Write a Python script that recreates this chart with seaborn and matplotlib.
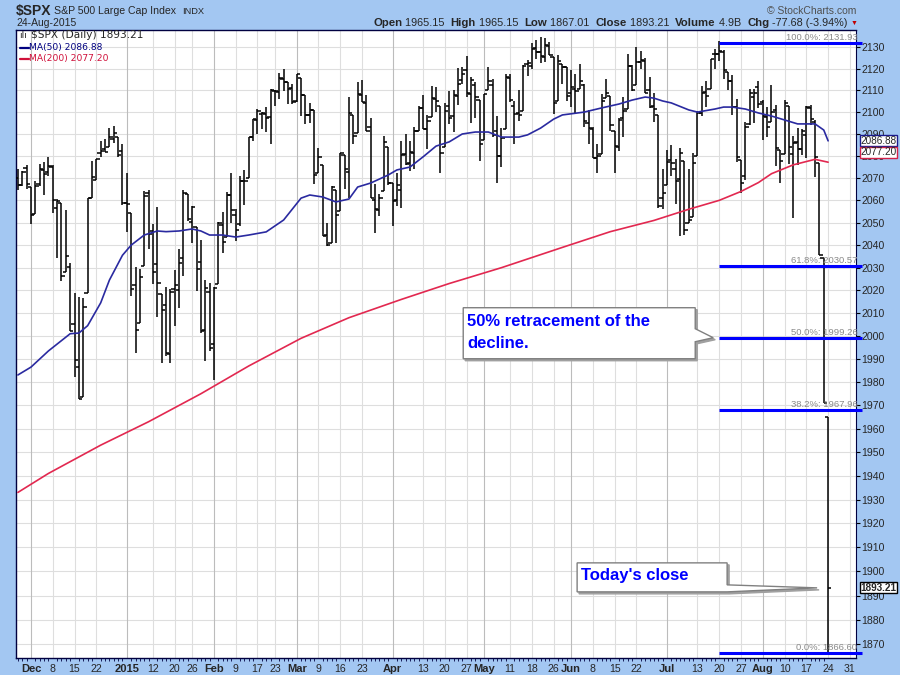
import numpy as np
import pandas as pd
import matplotlib
matplotlib.use('Agg')
import matplotlib.pyplot as plt
import seaborn as sns
from matplotlib.patches import Polygon
from matplotlib.ticker import FixedLocator, FixedFormatter, NullLocator

# trading calendar (NYSE holidays removed)
holidays = ['2014-11-27', '2014-12-25', '2015-01-01', '2015-01-19', '2015-02-16',
            '2015-04-03', '2015-05-25', '2015-07-03', '2015-09-07']

# daily bars, 25-Nov-2014 .. 24-Aug-2015
opens = [2070.15, 2067.03, 2074.78,
         2065.78, 2053.77, 2067.45, 2073.64, 2072.78, 2074.84, 2056.55, 2058.86, 2027.92, 2030.36, 2005.03, 1986.71, 1973.77, 2018.98, 2061.04, 2069.28, 2081.48, 2083.25, 2084.30, 2087.63, 2088.49, 2082.11,
         2058.90, 2054.44, 2022.15, 2005.55, 2030.61, 2063.45, 2046.13, 2031.58, 2018.40, 2013.75, 1992.25, 2020.76, 2020.19, 2034.30, 2062.98, 2050.42, 2047.86, 2032.34, 2002.45, 2019.35,
         1996.67, 2022.71, 2048.86, 2043.45, 2062.28, 2053.47, 2049.38, 2068.55, 2069.98, 2088.78, 2096.47, 2099.16, 2099.25, 2097.65, 2109.83, 2109.10, 2115.30, 2113.91, 2110.88,
         2105.23, 2115.76, 2107.72, 2098.54, 2100.91, 2072.25, 2076.14, 2044.69, 2041.10, 2064.56, 2055.35, 2080.59, 2072.84, 2098.69, 2090.32, 2107.99, 2103.94, 2093.10, 2059.94, 2055.78, 2064.11, 2084.05,
         2067.63, 2060.03, 2064.87, 2080.79, 2076.94, 2081.29, 2091.51, 2102.03, 2092.28, 2097.82, 2105.96, 2102.58, 2084.11, 2102.82, 2098.27, 2107.21, 2114.76, 2119.29, 2108.35, 2112.49, 2105.52,
         2087.38, 2110.23, 2112.63, 2091.26, 2079.96, 2092.13, 2115.56, 2102.87, 2099.62, 2100.43, 2122.07, 2121.30, 2129.45, 2127.79, 2125.55, 2130.36, 2125.34, 2105.13, 2122.27, 2120.66,
         2108.64, 2110.41, 2110.64, 2112.35, 2095.09, 2092.34, 2079.07, 2081.12, 2106.24, 2107.43, 2091.34, 2084.26, 2097.40, 2101.58, 2121.06, 2112.50, 2123.16, 2123.65, 2109.96, 2102.62, 2098.63, 2061.19,
         2067.00, 2078.03, 2073.95, 2069.52, 2077.66, 2049.73, 2052.74, 2080.03, 2099.72, 2109.01, 2110.55, 2126.80, 2126.85, 2127.55, 2118.21, 2114.16, 2102.24, 2078.19, 2070.75, 2094.70, 2106.78, 2111.60,
         2104.49, 2097.68, 2095.27, 2100.75, 2082.61, 2080.98, 2102.66, 2081.10, 2086.19, 2083.15, 2089.70, 2101.99, 2095.69, 2076.61, 2034.08, 1965.15]
highs = [2074.21, 2073.40, 2075.76,
         2065.78, 2068.77, 2076.28, 2077.34, 2079.47, 2075.78, 2060.60, 2058.86, 2055.53, 2032.25, 2018.69, 2016.89, 2016.75, 2061.23, 2077.85, 2078.76, 2086.73, 2087.56, 2092.70, 2093.55, 2088.49, 2085.58,
         2072.36, 2054.44, 2030.25, 2029.61, 2064.08, 2064.43, 2049.30, 2056.93, 2018.40, 2021.35, 2020.46, 2028.94, 2038.29, 2064.62, 2062.98, 2057.62, 2047.86, 2042.49, 2024.64, 2023.32,
         2021.66, 2050.30, 2054.74, 2063.55, 2072.40, 2056.16, 2070.86, 2073.48, 2088.53, 2097.03, 2101.30, 2100.23, 2102.13, 2110.61, 2110.05, 2117.94, 2119.59, 2113.91, 2112.74,
         2117.52, 2115.76, 2107.72, 2104.25, 2100.91, 2083.49, 2076.14, 2050.08, 2066.41, 2064.56, 2081.41, 2080.59, 2106.85, 2098.69, 2113.92, 2114.86, 2107.63, 2097.43, 2067.15, 2062.83, 2088.97, 2084.05,
         2067.63, 2072.17, 2086.99, 2089.81, 2086.69, 2093.31, 2102.61, 2107.65, 2098.62, 2111.91, 2111.30, 2102.58, 2103.94, 2109.64, 2109.98, 2120.49, 2120.92, 2125.92, 2116.04, 2113.65, 2105.52,
         2108.41, 2120.95, 2115.24, 2098.42, 2092.90, 2117.66, 2117.69, 2105.06, 2110.19, 2121.45, 2123.89, 2131.78, 2133.02, 2134.72, 2134.28, 2132.15, 2125.34, 2126.22, 2122.27, 2120.66,
         2119.15, 2117.59, 2121.92, 2112.89, 2100.99, 2093.01, 2085.62, 2108.50, 2115.02, 2107.43, 2091.34, 2097.40, 2106.79, 2126.65, 2121.64, 2129.87, 2128.03, 2125.10, 2116.04, 2108.92, 2098.63, 2074.28,
         2082.78, 2085.06, 2078.61, 2083.74, 2077.66, 2074.28, 2081.31, 2100.67, 2111.98, 2114.14, 2124.42, 2128.91, 2132.82, 2128.49, 2118.51, 2116.87, 2106.01, 2078.19, 2095.60, 2110.60, 2110.48, 2114.24,
         2105.70, 2102.51, 2112.66, 2103.32, 2082.61, 2105.35, 2102.66, 2089.06, 2092.93, 2092.45, 2102.87, 2103.47, 2096.17, 2076.61, 2034.08, 1965.15]
lows = [2064.75, 2066.40, 2065.06,
        2049.57, 2053.77, 2066.65, 2062.34, 2070.81, 2054.27, 2034.17, 2024.26, 2027.92, 2002.33, 1982.26, 1972.56, 1973.77, 2018.98, 2061.03, 2069.28, 2079.77, 2081.86, 2084.30, 2085.75, 2079.53, 2057.94,
        2046.04, 2017.34, 1992.44, 2005.55, 2030.61, 2038.33, 2022.58, 2008.25, 1988.44, 1991.47, 1988.12, 2004.49, 2012.04, 2026.38, 2050.54, 2040.97, 2019.91, 2001.49, 1989.18, 1993.38,
        1980.90, 2022.71, 2036.72, 2043.45, 2049.97, 2041.88, 2048.62, 2057.99, 2069.98, 2086.70, 2089.80, 2092.15, 2090.79, 2085.44, 2103.00, 2105.87, 2109.89, 2103.76, 2103.75,
        2104.50, 2098.26, 2094.49, 2095.22, 2067.27, 2072.21, 2044.16, 2039.69, 2041.10, 2041.17, 2055.35, 2065.08, 2061.23, 2085.56, 2090.32, 2104.42, 2091.50, 2061.05, 2045.50, 2052.96, 2064.11, 2067.04,
        2048.38, 2057.32, 2056.52, 2076.10, 2073.30, 2074.29, 2091.51, 2092.33, 2083.24, 2097.82, 2100.02, 2072.37, 2084.11, 2094.38, 2091.05, 2103.19, 2112.76, 2107.04, 2094.89, 2097.41, 2077.59,
        2087.38, 2110.23, 2088.46, 2067.93, 2074.99, 2092.13, 2104.58, 2085.57, 2096.04, 2100.43, 2116.81, 2120.01, 2124.50, 2122.59, 2122.95, 2126.06, 2099.18, 2105.13, 2112.86, 2104.89,
        2102.54, 2099.14, 2110.64, 2093.23, 2085.67, 2079.11, 2072.14, 2081.12, 2106.24, 2091.33, 2072.49, 2082.10, 2088.86, 2101.58, 2109.45, 2112.50, 2119.89, 2108.58, 2101.78, 2095.38, 2056.64, 2056.32,
        2067.00, 2071.02, 2058.40, 2044.02, 2044.66, 2049.73, 2052.74, 2080.03, 2098.18, 2102.49, 2110.55, 2119.88, 2123.66, 2115.40, 2110.00, 2098.63, 2077.09, 2063.52, 2069.09, 2094.08, 2094.97, 2102.07,
        2087.31, 2088.60, 2095.27, 2075.53, 2067.91, 2080.98, 2076.49, 2052.09, 2076.10, 2080.61, 2079.30, 2094.14, 2070.53, 2035.73, 1970.89, 1867.01]
closes = [2067.03, 2072.83, 2067.56,
          2053.44, 2066.55, 2074.33, 2071.92, 2075.37, 2060.31, 2059.82, 2026.14, 2035.33, 2002.33, 1989.63, 1972.74, 2012.89, 2061.23, 2070.65, 2078.54, 2082.17, 2081.88, 2088.77, 2090.57, 2080.35, 2058.90,
          2058.20, 2020.58, 2002.61, 2025.90, 2062.14, 2044.81, 2028.26, 2023.03, 2011.27, 1992.67, 2019.42, 2022.55, 2032.12, 2063.15, 2051.82, 2057.09, 2029.55, 2002.16, 2021.25, 1994.99,
          2020.85, 2050.03, 2041.51, 2062.52, 2055.47, 2046.74, 2068.59, 2068.53, 2088.48, 2096.99, 2100.34, 2099.68, 2097.45, 2110.30, 2109.66, 2115.48, 2113.86, 2110.74, 2104.50,
          2117.39, 2107.78, 2098.53, 2101.04, 2071.26, 2079.43, 2044.16, 2040.24, 2065.95, 2053.40, 2081.19, 2074.28, 2099.50, 2089.27, 2108.10, 2104.42, 2091.50, 2061.05, 2056.15, 2061.02, 2086.24, 2067.89,
          2059.69, 2066.96, 2080.62, 2076.33, 2081.90, 2091.18, 2102.06, 2092.43, 2095.84, 2106.63, 2104.99, 2081.18, 2100.40, 2097.29, 2107.96, 2112.93, 2117.69, 2108.92, 2114.76, 2106.85, 2085.51,
          2108.29, 2114.49, 2089.46, 2080.15, 2088.00, 2116.10, 2105.33, 2099.12, 2098.48, 2121.10, 2122.73, 2129.20, 2127.83, 2125.85, 2130.82, 2126.06, 2104.20, 2123.48, 2120.79, 2107.39,
          2111.73, 2109.60, 2114.07, 2095.84, 2092.83, 2079.28, 2080.15, 2105.20, 2108.86, 2094.11, 2084.43, 2096.29, 2100.44, 2121.24, 2109.99, 2122.85, 2124.20, 2108.58, 2102.31, 2101.49, 2057.64, 2063.11,
          2077.42, 2076.78, 2068.76, 2081.34, 2046.68, 2051.31, 2076.62, 2099.60, 2108.95, 2107.40, 2124.29, 2126.64, 2128.28, 2119.21, 2114.15, 2102.15, 2079.65, 2067.64, 2093.25, 2108.57, 2108.63, 2103.84,
          2098.04, 2093.32, 2099.84, 2083.56, 2077.57, 2104.18, 2084.07, 2086.05, 2083.39, 2091.54, 2102.44, 2096.92, 2079.61, 2035.73, 1970.89, 1893.21]

# moving averages
ma50_dates = ['2014-11-25', '2014-12-01', '2014-12-05', '2014-12-10', '2014-12-12', '2014-12-16', '2014-12-18',
              '2014-12-23', '2014-12-26', '2014-12-31', '2015-01-05', '2015-01-08', '2015-01-13', '2015-01-15',
              '2015-01-21', '2015-01-26', '2015-01-28', '2015-01-30', '2015-02-04', '2015-02-09', '2015-02-12',
              '2015-02-19', '2015-02-25', '2015-03-03', '2015-03-05', '2015-03-10', '2015-03-13', '2015-03-18',
              '2015-03-20', '2015-03-25', '2015-03-31', '2015-04-02', '2015-04-08', '2015-04-13', '2015-04-16',
              '2015-04-21', '2015-04-24', '2015-04-29', '2015-05-04', '2015-05-07', '2015-05-13', '2015-05-15',
              '2015-05-20', '2015-05-26', '2015-05-28', '2015-06-04', '2015-06-10', '2015-06-16', '2015-06-19',
              '2015-06-24', '2015-06-26', '2015-06-30', '2015-07-02', '2015-07-09', '2015-07-13', '2015-07-17',
              '2015-07-21', '2015-07-23', '2015-07-28', '2015-07-31', '2015-08-05', '2015-08-10', '2015-08-13',
              '2015-08-17', '2015-08-19', '2015-08-21', '2015-08-24']
ma50_vals = [1983.1, 1986.5, 1993.5, 1998.0, 2001.0, 2001.3, 2004.5, 2014.5, 2024.5, 2035.5, 2040.0, 2044.5,
             2046.3, 2046.0, 2046.3, 2047.2, 2046.3, 2044.5, 2044.5, 2043.6, 2044.5, 2045.9, 2051.2, 2061.0,
             2062.4, 2061.5, 2059.3, 2060.6, 2066.0, 2067.8, 2071.4, 2073.7, 2075.0, 2079.6, 2084.5, 2086.4,
             2090.0, 2090.9, 2090.9, 2088.6, 2088.6, 2089.6, 2092.7, 2096.8, 2098.7, 2100.0, 2101.9, 2103.7,
             2105.5, 2106.9, 2106.4, 2105.1, 2104.2, 2101.0, 2100.0, 2101.4, 2102.3, 2102.3, 2101.4, 2099.6,
             2098.2, 2096.4, 2094.6, 2094.6, 2094.6, 2091.8, 2086.88]
ma200_dates = ['2014-11-25', '2014-12-05', '2014-12-23', '2015-01-09', '2015-01-28', '2015-02-12', '2015-03-03',
               '2015-03-18', '2015-04-06', '2015-04-21', '2015-05-07', '2015-05-28', '2015-06-12', '2015-06-26',
               '2015-07-09', '2015-07-20', '2015-07-27', '2015-07-31', '2015-08-05', '2015-08-12', '2015-08-19',
               '2015-08-24']
ma200_vals = [1933.0, 1941.0, 1953.0, 1963.0, 1975.0, 1987.0, 1999.0, 2008.0, 2016.0, 2023.0, 2030.0,
              2039.0, 2046.0, 2051.0, 2056.0, 2060.0, 2064.0, 2068.0, 2072.0, 2076.0, 2078.5, 2077.2]

# fibonacci retracement levels
fib_pcts = ['100.0%', '61.8%', '50.0%', '38.2%', '0.0%']
fib_vals = [2131.93, 2030.57, 1999.26, 1967.96, 1866.60]
fib_start = '2015-07-20'

# axis ticks
y_ticks = list(range(1870, 2131, 10))
x_tick_dates = ['2014-12-01', '2014-12-08', '2014-12-15', '2014-12-22', '2015-01-02', '2015-01-12', '2015-01-20',
                '2015-01-26', '2015-02-02', '2015-02-09', '2015-02-17', '2015-02-23', '2015-03-02', '2015-03-09',
                '2015-03-16', '2015-03-23', '2015-04-01', '2015-04-13', '2015-04-20', '2015-04-27', '2015-05-01',
                '2015-05-11', '2015-05-18', '2015-05-26', '2015-06-01', '2015-06-08', '2015-06-15', '2015-06-22',
                '2015-07-01', '2015-07-13', '2015-07-20', '2015-07-27', '2015-08-03', '2015-08-10', '2015-08-17',
                '2015-08-24', '2015-08-31']
x_tick_labels = ['Dec', '8', '15', '22', '2015', '12', '20', '26', 'Feb', '9', '17', '23', 'Mar', '9', '16', '23',
                 'Apr', '13', '20', '27', 'May', '11', '18', '26', 'Jun', '8', '15', '22', 'Jul', '13', '20', '27',
                 'Aug', '10', '17', '24', '31']
month_labels = ['Dec', '2015', 'Feb', 'Mar', 'Apr', 'May', 'Jun', 'Jul', 'Aug']

# ---------------------------------------------------------------
sns.set_style('white')
plt.rcParams['font.family'] = ['Liberation Sans', 'DejaVu Sans']

cal = pd.bdate_range('2014-11-25', '2015-09-04')
cal = cal[~cal.isin(pd.to_datetime(holidays))]
pos = {d.strftime('%Y-%m-%d'): i for i, d in enumerate(cal)}

W, H = 900, 675
BG = '#a3c7f2'
NAVY = '#000040'


def fp(px, py):
    return px / W, 1 - py / H


fig = plt.figure(figsize=(W / 100, H / 100), dpi=100, facecolor=BG)
ax = fig.add_axes([16 / W, 1 - 658 / H, 840 / W, 628 / H])
ax.set_facecolor('white')

x = np.arange(len(closes))
ax.set_yscale('log')
ax.set_xlim(-0.44, 192.4)
ax.set_ylim(1864.5, 2137.9)

# grid
for v in y_ticks:
    ax.axhline(v, color='#dedede', lw=0.8, zorder=0)
for d, lab in zip(x_tick_dates, x_tick_labels):
    ax.axvline(pos[d], color='#bcbcbc' if lab in month_labels else '#dedede', lw=0.8, zorder=0)

# OHLC bars
ax.vlines(x, lows, highs, color='black', lw=1.1, zorder=3)
ax.hlines(opens, x - 0.75, x, color='black', lw=1.1, zorder=3)
ax.hlines(closes, x, x + 0.75, color='black', lw=1.1, zorder=3)

# moving averages
ma50 = pd.DataFrame({'x': [pos[d] for d in ma50_dates], 'v': ma50_vals})
ma200 = pd.DataFrame({'x': [pos[d] for d in ma200_dates], 'v': ma200_vals})
sns.lineplot(data=ma50, x='x', y='v', ax=ax, color='#2a2aa0', lw=1.2, zorder=4)
sns.lineplot(data=ma200, x='x', y='v', ax=ax, color='#e22850', lw=1.2, zorder=4)
ax.set_xlabel('')
ax.set_ylabel('')

# fibonacci lines
x0 = pos[fib_start]
for p, v in zip(fib_pcts, fib_vals):
    ax.hlines(v, x0, 193.8, color='#0000ff', lw=2.2, zorder=5, clip_on=False)
    ax.annotate(f'{p}: {v:.2f}', xy=(1.0015, v), xycoords=ax.get_yaxis_transform(),
                xytext=(0, 1), textcoords='offset pixels', ha='right', va='bottom',
                fontsize=6.8, color='#8a8a8a', zorder=6, annotation_clip=False)

# axes styling
ax.yaxis.tick_right()
ax.yaxis.set_major_locator(FixedLocator(y_ticks))
ax.yaxis.set_major_formatter(FixedFormatter([str(v) for v in y_ticks]))
ax.yaxis.set_minor_locator(NullLocator())
ax.tick_params(axis='y', which='major', right=True, left=False, length=3, width=0.8,
               color='black', labelsize=7.6, pad=1)
ax.set_xticks([pos[d] for d in x_tick_dates])
ax.set_xticklabels(x_tick_labels)
ax.set_xticks(x, minor=True)
ax.tick_params(axis='x', which='major', length=0, labelsize=7.6, pad=4)
ax.tick_params(axis='x', which='minor', length=2, width=0.6, color=NAVY, bottom=True)
for t in ax.get_xticklabels():
    if t.get_text() in month_labels:
        t.set_fontweight('bold')
        t.set_fontsize(8)
for s in ['left', 'top', 'bottom']:
    ax.spines[s].set_color(NAVY)
    ax.spines[s].set_linewidth(1)
ax.spines['right'].set_color(NAVY)
ax.spines['right'].set_linestyle((0, (1, 1)))


# value tags on the right
def tag(val, txt, ec, dy=0, bold=False):
    ax.annotate(txt, xy=(1, val), xycoords=ax.get_yaxis_transform(), xytext=(4, dy),
                textcoords='offset pixels', ha='left', va='center', fontsize=7.2,
                fontweight='bold' if bold else 'normal', annotation_clip=False, zorder=8,
                bbox=dict(boxstyle='square,pad=0.05', fc='white', ec=ec, lw=1))

tag(ma50_vals[-1], f'{ma50_vals[-1]:.2f}', '#1a1a8c')
tag(ma200_vals[-1], f'{ma200_vals[-1]:.2f}', '#d42048', dy=10)
tag(closes[-1], f'{closes[-1]:.2f}', 'black', bold=True)

# header
fig.text(*fp(16, 11), '$SPX', fontsize=10, fontweight='bold', va='center')
fig.text(*fp(54, 11), 'S&P 500 Large Cap Index', fontsize=7.6, va='center')
fig.text(*fp(182, 11.5), 'INDX', fontsize=6.7, va='center')
fig.text(*fp(16, 23.5), '24-Aug-2015', fontsize=7.5, va='center')
fig.text(*fp(856, 10.5), '\u00a9 StockCharts.com', fontsize=7.5, color='#505050', ha='right', va='center')

renderer = fig.canvas.get_renderer()
pieces = [('Open', 'bold'), (' 1965.15  ', 'normal'), ('High', 'bold'), (' 1965.15  ', 'normal'),
          ('Low', 'bold'), (' 1867.01  ', 'normal'), ('Close', 'bold'), (' 1893.21  ', 'normal'),
          ('Volume', 'bold'), (' 4.9B  ', 'normal'), ('Chg', 'bold'), (' -77.68 (-3.94%) ', 'normal')]
cx = 373
for s, w in pieces:
    t = fig.text(*fp(cx, 23.5), s, fontsize=8.2 if w == 'bold' else 7.8, fontweight=w, va='center')
    cx += t.get_window_extent(renderer).width
fig.text(*fp(cx, 23.5), '\u25bc', fontsize=5, color='#c00000', va='center')

# legend inside the plot
fig.text(*fp(19, 35.5), '\u0131l\u0131', fontsize=6.5, va='center', family='DejaVu Sans')
fig.text(*fp(31, 35.5), '$SPX (Daily) 1893.21', fontsize=7.6, va='center', family='DejaVu Sans')
fig.add_artist(plt.Line2D([20 / W, 29 / W], [1 - 47.5 / H] * 2, color='#000080', lw=1.6))
fig.text(*fp(29, 47.5), 'MA(50) 2086.88', fontsize=6.6, color='#000080', va='center', family='DejaVu Sans')
fig.add_artist(plt.Line2D([20 / W, 29 / W], [1 - 58.5 / H] * 2, color='#d0103a', lw=1.6))
fig.text(*fp(29, 58.5), 'MA(200) 2077.20', fontsize=6.6, color='#d0103a', va='center', family='DejaVu Sans')


# callouts
def callout(tip_data, tip_dx, box, base, text, text_dy):
    tx, ty = ax.transData.transform(tip_data)
    tx, ty = tx + tip_dx, H - ty
    left, right, top, bottom = box
    b_top, b_bot = base
    verts = [(left, top), (right, top), (right, b_top), (0, 0), (right, b_bot), (right, bottom), (left, bottom)]
    for off, fc, ec, z in [(2, '#a0a0a0', '#a0a0a0', 9), (0, 'white', '#808080', 10)]:
        pts = [fp(tx + vx + off, ty + vy + off) for vx, vy in verts]
        fig.add_artist(Polygon(pts, closed=True, fc=fc, ec=ec, lw=1, zorder=z))
    fig.text(*fp(tx + left + 4, ty + top + text_dy), text, fontsize=12, fontweight='bold', color='#0000ff',
             va='top', ha='left', linespacing=1.6, zorder=11)

callout((pos[fib_start], fib_vals[2]), -6, (-250, -18, -30, 21), (-9, 4),
        '50% retracement of the\ndecline.', 6)
callout((x[-1], closes[-1]), -11, (-240, -90, -25, 4), (-3, 4), "Today's close", 5)

fig.savefig('out.png', dpi=100, facecolor=BG)
